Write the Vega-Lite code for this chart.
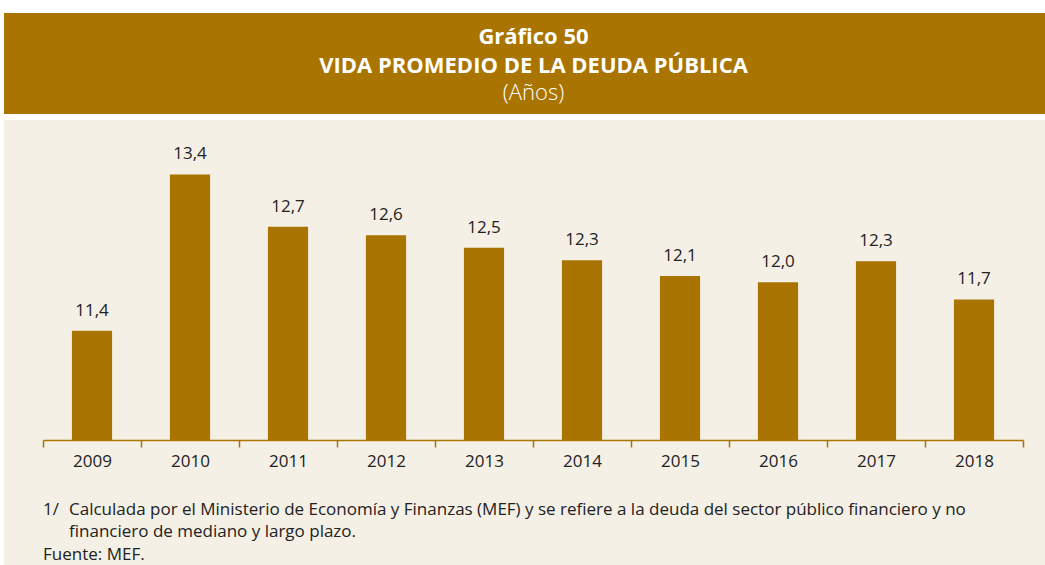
{
  "$schema": "https://vega.github.io/schema/vega-lite/v6.json",
  "background": "white",
  "padding": {"left": 4, "top": 13, "right": 0, "bottom": 0},
  "spacing": 6,
  "config": {"view": {"stroke": null}, "font": "Open Sans"},
  "vconcat": [
    {
      "width": 1041,
      "height": 101,
      "view": {"fill": "#A97400", "stroke": null},
      "data": {"values": [
        {"line": 1, "t": "Gráfico 50", "w": "bold"},
        {"line": 2, "t": "VIDA PROMEDIO DE LA DEUDA PÚBLICA", "w": "bold"},
        {"line": 3, "t": "(Años)", "w": "normal"}
      ]},
      "encoding": {
        "y": {"field": "line", "type": "ordinal", "scale": {"padding": 0.77}, "axis": null},
        "text": {"field": "t"}
      },
      "layer": [
        {"transform": [{"filter": "datum.w === 'bold'"}], "mark": {"type": "text", "fontWeight": "bold", "fontSize": 22, "color": "white", "baseline": "middle", "dy": 2, "dx": 9}},
        {"transform": [{"filter": "datum.w !== 'bold'"}], "mark": {"type": "text", "fontSize": 22, "fontWeight": 300, "color": "white", "baseline": "middle", "dy": 1, "dx": 9}}
      ]
    },
    {
      "width": 1041,
      "height": 445,
      "view": {"fill": "#F4F0E6", "stroke": null},
      "layer": [
        {
          "data": {"values": [
            {"year": "2009", "v": 11.4, "lbl": "11,4"},
            {"year": "2010", "v": 13.4, "lbl": "13,4"},
            {"year": "2011", "v": 12.73, "lbl": "12,7"},
            {"year": "2012", "v": 12.62, "lbl": "12,6"},
            {"year": "2013", "v": 12.46, "lbl": "12,5"},
            {"year": "2014", "v": 12.3, "lbl": "12,3"},
            {"year": "2015", "v": 12.1, "lbl": "12,1"},
            {"year": "2016", "v": 12.02, "lbl": "12,0"},
            {"year": "2017", "v": 12.29, "lbl": "12,3"},
            {"year": "2018", "v": 11.8, "lbl": "11,7"}
          ]},
          "encoding": {
            "x": {"field": "year", "type": "nominal", "sort": null,
              "scale": {"range": [39, 1019], "paddingInner": 0, "paddingOuter": 0},
              "axis": {"title": null, "orient": "bottom", "offset": -125, "domainColor": "#A97400", "domainWidth": 1.5, "tickColor": "#A97400", "tickWidth": 1.5, "tickSize": 7, "tickBand": "extent", "labelFontSize": 17, "labelColor": "#222222", "labelPadding": 6, "labelAngle": 0, "grid": false}},
            "y": {"field": "v", "type": "quantitative", "scale": {"domain": [8.4, 14.097], "zero": false, "nice": false}, "axis": null}
          },
          "layer": [
            {"mark": {"type": "bar", "color": "#A97400", "width": {"band": 0.41}}, "encoding": {"y2": {"datum": 10}}},
            {"mark": {"type": "text", "baseline": "alphabetic", "dy": -15, "fontSize": 17, "color": "#222222"}, "encoding": {"text": {"field": "lbl"}}}
          ]
        },
        {
          "data": {"values": [
            {"y": 9.039, "t": "1/"},
            {"y": 8.463, "t": "Fuente: MEF."}
          ]},
          "mark": {"type": "text", "align": "left", "baseline": "alphabetic", "dx": -49, "fontSize": 17, "color": "#222222"},
          "encoding": {
            "x": {"datum": "2009"},
            "y": {"field": "y", "type": "quantitative"},
            "text": {"field": "t"}
          }
        },
        {
          "data": {"values": [
            {"y": 9.039, "t": "Calculada por el Ministerio de Economía y Finanzas (MEF) y se refiere a la deuda del sector público financiero y no"},
            {"y": 8.758, "t": "financiero de mediano y largo plazo."}
          ]},
          "mark": {"type": "text", "align": "left", "baseline": "alphabetic", "dx": -23, "fontSize": 17, "color": "#222222"},
          "encoding": {
            "x": {"datum": "2009"},
            "y": {"field": "y", "type": "quantitative"},
            "text": {"field": "t"}
          }
        }
      ]
    }
  ]
}
